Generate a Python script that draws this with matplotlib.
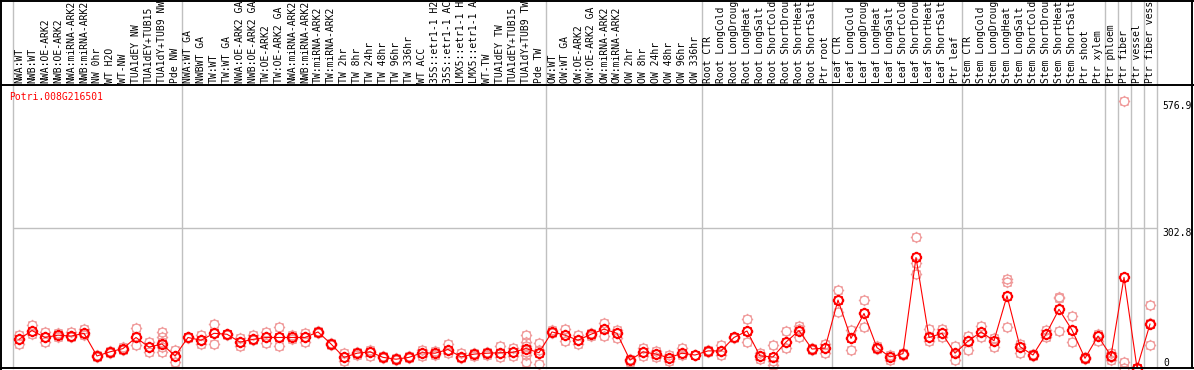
import matplotlib
matplotlib.use("Agg")
import matplotlib.pyplot as plt
import numpy as np
from matplotlib.lines import Line2D
from matplotlib.path import Path
from matplotlib.transforms import blended_transform_factory

GENE = "Potri.008G216501"

# sample names as shown in the header (cut to 14 characters there)
LABELS = [
    "NWA:WT", "NWB:WT", "NWA:OE-ARK2", "NWB:OE-ARK2", "NWA:miRNA-ARK2",
    "NWB:miRNA-ARK2", "NW 0hr", "WT H2O", "WT-NW", "TUA1dEY NW",
    "TUA1dEY+TUB15", "TUA1dY+TUB9 NW", "Pde NW",
    "NWA:WT GA", "NWBWT GA", "TW:WT", "TW:WT GA", "NWA:OE-ARK2 GA",
    "NWB:OE-ARK2 GA", "TW:OE-ARK2", "TW:OE-ARK2 GA", "NWA:miRNA-ARK2",
    "NWB:miRNA-ARK2", "TW:miRNA-ARK2", "TW:miRNA-ARK2", "TW 2hr", "TW 8hr",
    "TW 24hr", "TW 48hr", "TW 96hr", "TW 336hr", "WT ACC", "35S::etr1-1 H2",
    "35S::etr1-1 AC", "LMX5::etr1-1 H", "LMX5::etr1-1 A", "WT-TW",
    "TUA1dEY TW", "TUA1dEY+TUB15", "TUA1dY+TUB9 TW", "Pde TW",
    "OW:WT", "OW:WT GA", "OW:OE-ARK2", "OW:OE-ARK2 GA", "OW:miRNA-ARK2",
    "OW:miRNA-ARK2", "OW 2hr", "OW 8hr", "OW 24hr", "OW 48hr", "OW 96hr",
    "OW 336hr",
    "Root CTR", "Root LongCold", "Root LongDroug", "Root LongHeat",
    "Root LongSalt", "Root ShortCold", "Root ShortDrou", "Root ShortHeat",
    "Root ShortSalt", "Ptr root",
    "Leaf CTR", "Leaf LongCold", "Leaf LongDroug", "Leaf LongHeat",
    "Leaf LongSalt", "Leaf ShortCold", "Leaf ShortDrou", "Leaf ShortHeat",
    "Leaf ShortSalt", "Ptr leaf",
    "Stem CTR", "Stem LongCold", "Stem LongDroug", "Stem LongHeat",
    "Stem LongSalt", "Stem ShortCold", "Stem ShortDrou", "Stem ShortHeat",
    "Stem ShortSalt", "Ptr shoot", "Ptr xylem",
    "Ptr phloem", "Ptr fiber", "Ptr vessel", "Ptr fiber vess",
]

# number of samples between the grey separators
GROUP_SIZES = [13, 28, 12, 10, 10, 11, 1, 1, 1, 1]

MEANS = [
    62, 81, 66, 71, 69, 75, 26, 35, 42, 66, 45, 52, 26,
    66, 60, 75, 73, 56, 62, 66, 66, 66, 66, 78, 52, 23, 32, 35, 23, 19,
    23, 33, 32, 40, 24, 30, 32, 33, 34, 42, 33,
    78, 71, 60, 73, 84, 75, 17, 35, 30, 22, 32, 28,
    37, 37, 66, 80, 26, 24, 56, 81, 41, 43,
    147, 64, 118, 44, 24, 31, 239, 66, 75, 32,
    58, 78, 59, 156, 46, 28, 73, 127, 82, 21, 69,
    26, 196, 0, 95,
]

REPLICATES = [
    [71, 62, 51], [92, 81, 73], [77, 66, 56], [76, 71, 66], [78, 69, 66],
    [84, 75, 71], [28, 26, 23], [37, 35, 33], [45, 42, 39], [86, 66, 50],
    [56, 45, 35], [78, 68, 57, 46, 35], [39, 26, 14],
    [68, 66, 64], [71, 60, 51], [95, 75, 52], [74, 73, 72], [64, 56, 48],
    [71, 62, 60], [78, 66, 53], [88, 66, 48], [71, 66, 62], [75, 66, 57],
    [81, 78, 76], [54, 52, 50], [33, 23, 15], [35, 32, 29], [40, 35, 27],
    [25, 23, 21], [21, 19, 17], [25, 23, 21], [40, 33, 26], [36, 32, 28],
    [51, 40, 32], [33, 24, 21], [33, 30, 27], [35, 32, 29], [48, 33, 24],
    [43, 34, 25], [71, 57, 48, 35, 28, 12], [53, 38, 9],
    [82, 78, 76], [84, 71, 59], [71, 60, 51], [76, 73, 70], [98, 84, 69],
    [82, 75, 64], [20, 17, 14], [43, 35, 26], [37, 30, 23], [28, 22, 15],
    [44, 32, 28], [28, 28, 28],
    [40, 37, 34], [50, 37, 28], [68, 66, 64], [106, 80, 57], [32, 26, 20],
    [50, 15, 7], [81, 56, 43], [90, 85, 67], [43, 41, 39], [52, 43, 33],
    [169, 147, 122], [82, 64, 40], [148, 118, 88], [47, 44, 41],
    [28, 24, 17], [33, 31, 29], [283, 228, 203], [84, 66, 59], [84, 75, 66],
    [48, 32, 17],
    [69, 58, 40], [91, 78, 68], [64, 59, 45], [192, 187, 89], [52, 46, 33],
    [30, 28, 26], [82, 73, 68], [154, 151, 80], [112, 82, 57], [23, 21, 19],
    [73, 69, 59],
    [33, 23, 17, 26], [576.9, 12, 0], [0, 0, 0], [136, 98, 50],
]

Y_TICKS = [0, 302.8, 576.9]

W, H = 1194, 370
FONT = dict(family="DejaVu Sans Mono", size=7.0)
GREY = "#c0c0c0"


def gear_marker():
    # circle with little stubs round it, like the original bitmap markers
    verts, codes = [], []
    for a in np.arange(8) * np.pi / 4:
        verts += [(np.cos(a), np.sin(a)), (1.3 * np.cos(a), 1.3 * np.sin(a))]
        codes += [Path.MOVETO, Path.LINETO]
    return Path.make_compound_path(Path.unit_circle(), Path(verts, codes))


fig = plt.figure(figsize=(W / 100, H / 100), dpi=100)
n = len(LABELS)
x = np.arange(n)

# plot area: 0 sits at y=368px, header ends at y=85px
px_per_unit = 140 / 302.8
ax = fig.add_axes([12.5 / W, 2 / H, (13 * n) / W, 283 / H])
ax.set_xlim(-0.5, n - 0.5)
ax.set_ylim(0, 283 / px_per_unit)
ax.axis("off")

edges = np.concatenate([[0], np.cumsum(GROUP_SIZES)]) - 0.5
for e in edges:
    ax.axvline(e, ymin=0, ymax=368 / 283, color=GREY, lw=1, clip_on=False, zorder=0)
ax.axhline(Y_TICKS[1], color=GREY, lw=1, zorder=0)

marker = gear_marker()
rx = [i for i, reps in enumerate(REPLICATES) for _ in reps]
ry = [v for reps in REPLICATES for v in reps]
ax.plot(rx, ry, ls="none", marker=marker, ms=8.2, mfc="none",
        mec="#f09a9a", mew=0.9, clip_on=False, zorder=2)
ax.plot(x, MEANS, color="red", lw=0.8, marker=marker, ms=8.2, mfc="none",
        mec="red", mew=1.4, clip_on=False, zorder=3)

# sample labels in the header
head = blended_transform_factory(ax.transData, fig.transFigure)
for i, lab in enumerate(LABELS):
    ax.text(i, (H - 83) / H, lab, transform=head, rotation=90,
            ha="center", va="bottom", color="black", **FONT)

ax.text(9 / W, (H - 97) / H, GENE, transform=fig.transFigure, color="red",
        ha="left", va="center", **FONT)

# y values on the right
ytr = blended_transform_factory(fig.transFigure, ax.transData)
ax.text(1163 / W, Y_TICKS[0], "0", transform=ytr, ha="left", va="bottom", **FONT)
for v in Y_TICKS[1:]:
    ax.text(1162 / W, v, f"{v:.1f}", transform=ytr, ha="left", va="top", **FONT)


# frame lines
def fline(x0, y0, x1, y1):
    fig.add_artist(Line2D([x0 / W, x1 / W], [1 - y0 / H, 1 - y1 / H],
                          color="black", lw=1.4, transform=fig.transFigure))


fline(0, 85, W, 85)
fline(0, 368, 1193, 368)
fline(1, 0, 1, 370)
fline(1192, 0, 1192, 368)
fline(0, 0.5, W, 0.5)

fig.savefig("out.png", dpi=100, facecolor="white")
